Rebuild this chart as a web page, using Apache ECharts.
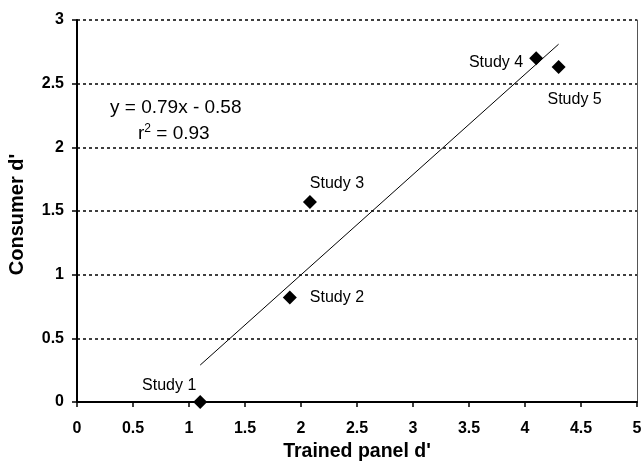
<!DOCTYPE html>
<html>
<head>
<meta charset="utf-8">
<script src="https://cdn.jsdelivr.net/npm/echarts@6/dist/echarts.min.js"></script>
<style>
  html, body { margin: 0; padding: 0; background: #fff; }
  #main { width: 644px; height: 461px; }
</style>
</head>
<body>
<div id="main"></div>
<script>
// 数据
var studyNames = ['Study 1', 'Study 2', 'Study 3', 'Study 4', 'Study 5'];
var trainedD = [1.1, 1.9, 2.08, 4.1, 4.3];
var consumerD = [0, 0.82, 1.57, 2.7, 2.63];
// 趋势线端点 (y = 0.79x - 0.58)
var trendX = [1.1, 4.3];
var trendY = [0.29, 2.81];

// 标签位置
var labelPos = [
    { position: 'top', offset: [-31, 4] },
    { position: 'right', distance: 13, offset: [0, 0] },
    { position: 'top', offset: [27, 2] },
    { position: 'left', distance: 6, offset: [0, 4] },
    { position: 'bottom', offset: [16, 12] }
];

var font = 'Liberation Sans, Arial, sans-serif';

var myChart = echarts.init(document.getElementById('main'));

var option = {
    animation: false,
    grid: { left: 77, right: 7, top: 20, bottom: 59, containLabel: false, outerBoundsMode: 'none' },
    xAxis: {
        type: 'value',
        min: 0, max: 5, interval: 0.5,
        name: "Trained panel d'",
        nameLocation: 'middle',
        nameGap: 39,
        nameTextStyle: { fontFamily: font, fontWeight: 'bold', fontSize: 19.5, color: '#000' },
        axisLine: { show: true, lineStyle: { color: '#000', width: 2 } },
        axisTick: { show: true, length: 5, lineStyle: { color: '#000', width: 1.5 } },
        axisLabel: { fontFamily: font, fontWeight: 'bold', fontSize: 16, color: '#000', margin: 19 },
        splitLine: { show: false }
    },
    yAxis: [{
        type: 'value',
        min: 0, max: 3, interval: 0.5,
        name: "Consumer d'",
        nameLocation: 'middle',
        nameGap: 50,
        nameTextStyle: { fontFamily: font, fontWeight: 'bold', fontSize: 20, color: '#000', padding: [0, 7, 0, 0] },
        axisLine: { show: true, lineStyle: { color: '#000', width: 2 } },
        axisTick: { show: true, length: 5, lineStyle: { color: '#000', width: 1.5 } },
        axisLabel: { fontFamily: font, fontWeight: 'bold', fontSize: 16, color: '#000', margin: 13 },
        splitLine: { show: true, lineStyle: { color: '#000', width: 1.5, type: [3, 3] } }
    }, {
        type: 'value',
        position: 'right',
        min: 0, max: 3,
        axisLine: { show: true, lineStyle: { color: '#555', width: 1 } },
        axisTick: { show: false },
        axisLabel: { show: false },
        splitLine: { show: false }
    }],
    graphic: [
        {
            type: 'text', left: 110, top: 98,
            style: { text: 'y = 0.79x - 0.58', font: '19px ' + font, fill: '#000' }
        },
        {
            type: 'text', left: 138, top: 123,
            style: {
                text: '{n|r}{s|2}{n| = 0.93}',
                rich: {
                    n: { fontSize: 19, fontFamily: font, fill: '#000', lineHeight: 22 },
                    s: { fontSize: 12, fontFamily: font, fill: '#000', verticalAlign: 'top', lineHeight: 12 }
                }
            }
        }
    ],
    series: [
        {
            type: 'line',
            data: trendX.map(function (x, i) { return [x, trendY[i]]; }),
            symbol: 'none',
            lineStyle: { color: '#000', width: 1 },
            silent: true
        },
        {
            type: 'scatter',
            symbol: 'diamond',
            symbolSize: 14,
            itemStyle: { color: '#000', opacity: 1 },
            data: (function () {
                var res = [];
                for (var i = 0; i < studyNames.length; i++) {
                    res.push({
                        name: studyNames[i],
                        value: [trainedD[i], consumerD[i]],
                        label: Object.assign({
                            show: true,
                            formatter: '{b}',
                            fontFamily: font,
                            fontSize: 16,
                            color: '#000'
                        }, labelPos[i])
                    });
                }
                return res;
            })()
        }
    ]
};
myChart.setOption(option);
</script>
</body>
</html>
